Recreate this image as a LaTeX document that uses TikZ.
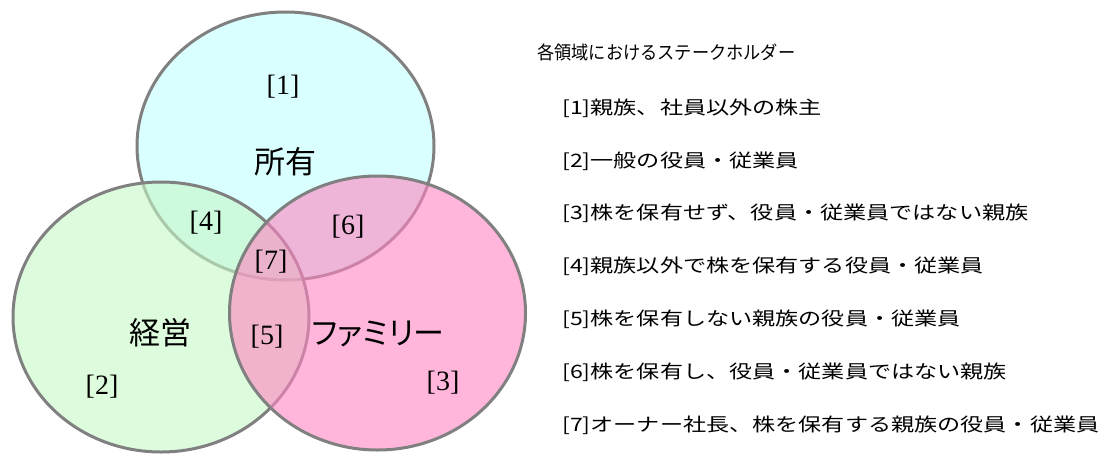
\documentclass[tikz,border=0pt]{standalone}
\usepackage{fontspec}
\usepackage{graphicx}
\newfontfamily\jp{Noto Sans CJK JP}
\newfontfamily\jpp[RawFeature=+palt]{Noto Sans CJK JP}
\newfontfamily\lser{Liberation Serif}
\definecolor{owncol}{RGB}{217,255,255}
\definecolor{mgtcol}{RGB}{198,248,198}
\definecolor{famcol}{RGB}{255,133,193}
\definecolor{edgecol}{RGB}{128,128,128}
\tikzset{
  setshape/.style={draw=edgecol, line width=3pt},
  numlbl/.style={font=\lser\fontsize{28}{30}\selectfont, inner sep=0pt},
  biglbl/.style={font=\jp\fontsize{31}{34}\selectfont, inner sep=0pt},
  itemtxt/.style={anchor=west, inner sep=0pt},
  titletxt/.style={anchor=west, inner sep=0pt}
}
\newcommand{\itemline}[1]{\scalebox{1.25}[1]{\jp\fontsize{18.5}{20}\selectfont #1}}
\newcommand{\titleline}[1]{\scalebox{0.93}[1]{\jp\fontsize{18.5}{20}\selectfont #1}}
\begin{document}
\begin{tikzpicture}[x=1pt,y=-1pt]
\useasboundingbox (0,0) rectangle (1102,455);
% circles
\draw[setshape, fill=owncol] (285.5,146) ellipse [x radius=148.5pt, y radius=134pt];
\draw[setshape, fill=mgtcol, fill opacity=0.6] (161,317) ellipse [x radius=148pt, y radius=135pt];
\draw[setshape, fill=famcol, fill opacity=0.6] (377.5,313) ellipse [x radius=148pt, y radius=137pt];
% labels in diagram
\node[numlbl] (n1) at (283,87) {[1]};
\node[biglbl] (own) at (285,162) {所有};
\node[numlbl] (n4) at (206,223) {[4]};
\node[numlbl] (n6) at (348,227) {[6]};
\node[numlbl] (n7) at (271,262) {[7]};
\node[biglbl] (mgt) at (160,333) {経営};
\node[numlbl] (n5) at (267,337) {[5]};
\node[inner sep=0pt, font=\jpp\fontsize{31}{34}\selectfont] (fam) at (378,334) {ファミリー};
\node[numlbl] (n2) at (102,387) {[2]};
\node[numlbl] (n3) at (443,383) {[3]};
% legend
\node[titletxt] (title) at (537,52) {\titleline{各領域におけるステークホルダー}};
\node[itemtxt] (i1) at (562,108) {\itemline{[1]親族、社員以外の株主}};
\node[itemtxt] (i2) at (562,161) {\itemline{[2]一般の役員・従業員}};
\node[itemtxt] (i3) at (562,213) {\itemline{[3]株を保有せず、役員・従業員ではない親族}};
\node[itemtxt] (i4) at (562,266) {\itemline{[4]親族以外で株を保有する役員・従業員}};
\node[itemtxt] (i5) at (562,319) {\itemline{[5]株を保有しない親族の役員・従業員}};
\node[itemtxt] (i6) at (562,372) {\itemline{[6]株を保有し、役員・従業員ではない親族}};
\node[itemtxt] (i7) at (562,425) {\itemline{[7]オーナー社長、株を保有する親族の役員・従業員}};
\end{tikzpicture}
\end{document}
